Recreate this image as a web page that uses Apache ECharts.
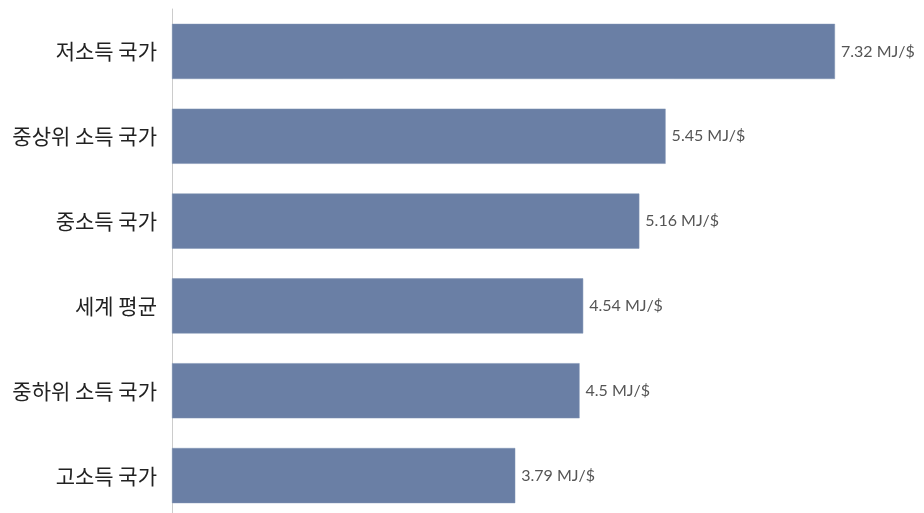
<!DOCTYPE html>
<html>
<head>
<meta charset="utf-8">
<script src="https://cdn.jsdelivr.net/npm/echarts@6/dist/echarts.min.js"></script>
<style>html,body{margin:0;padding:0;background:#fff;overflow:hidden;}#c{width:924px;height:518px;}</style>
</head>
<body>
<div id="c"></div>
<script>
const categories = ['저소득 국가', '중상위 소득 국가', '중소득 국가', '세계 평균', '중하위 소득 국가', '고소득 국가'];
const values = [7.32, 5.45, 5.16, 4.54, 4.5, 3.79];
const unit = ' MJ/$';

const chart = echarts.init(document.getElementById('c'), null, {renderer: 'canvas'});
chart.setOption({
  animation: false,
  grid: {left: 172, right: 924 - 172 - 7.32 * 90.57, top: 9, bottom: 0, containLabel: false},
  xAxis: {
    type: 'value', min: 0, max: 7.32, show: false
  },
  yAxis: {
    type: 'category', inverse: true, data: categories,
    axisLine: {show: true, lineStyle: {color: '#cccccc', width: 1}},
    axisTick: {show: false},
    axisLabel: {fontFamily: 'Noto Sans CJK KR', fontSize: 21, color: '#222', margin: 15},
    splitLine: {show: false}
  },
  series: [{
    type: 'bar', data: values, barCategoryGap: '35%',
    itemStyle: {color: '#6a7fa5', borderColor: '#7f92b3', borderWidth: 0.5},
    label: {
      show: true, position: 'right', distance: 6,
      fontFamily: 'Lato', fontSize: 16, color: '#555',
      formatter: p => p.value + unit
    }
  }]
});
</script>
</body>
</html>
